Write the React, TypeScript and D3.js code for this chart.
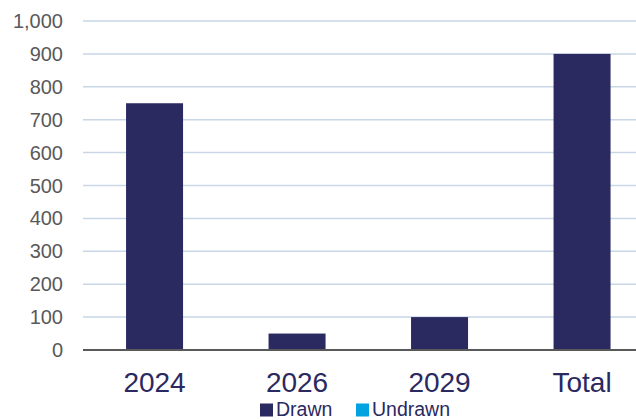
import React from "react";
import * as d3 from "d3";

const categories = ["2024", "2026", "2029", "Total"];
const drawn = [750, 50, 100, 900];
const undrawn = [0, 0, 0, 0];
const yTicks = [0, 100, 200, 300, 400, 500, 600, 700, 800, 900, 1000];
const seriesNames = ["Drawn", "Undrawn"];

const W = 636;
const H = 420;
const NAVY = "#2a2960";
const CYAN = "#00a3e0";

export default function App() {
  const x = d3.scaleBand<string>().domain(categories).range([83.3, 653.3]).paddingInner(0.6).paddingOuter(0.3);
  const y = d3.scaleLinear().domain([0, 1000]).range([350, 21]);
  const fmt = d3.format(",");
  const bw = x.bandwidth();
  return (
    <div style={{ position: "fixed", left: 0, top: 0 }}>
      <svg width={W} height={H} style={{ display: "block", fontFamily: "'Liberation Sans', Arial, sans-serif" }}>
        <rect width={W} height={H} fill="#fff" />
        {yTicks.map((t) => (
          <g key={t}>
            {t > 0 && (
              <line x1={83} x2={W} y1={y(t)} y2={y(t)} stroke="#c9d6e6" strokeWidth={1.5} />
            )}
            <text x={63} y={y(t)} dy="0.35em" textAnchor="end" fontSize={20} fill="#595959">
              {fmt(t)}
            </text>
          </g>
        ))}
        {categories.map((c, i) => (
          <g key={c}>
            <rect x={x(c)!} width={bw} y={y(drawn[i])} height={y(0) - y(drawn[i])} fill={NAVY} />
            <rect
              x={x(c)!}
              width={bw}
              y={y(drawn[i] + undrawn[i])}
              height={y(drawn[i]) - y(drawn[i] + undrawn[i])}
              fill={CYAN}
            />
            <text x={x(c)! + bw / 2} y={382} dy="0.36em" textAnchor="middle" fontSize={28} fill={NAVY}>
              {c}
            </text>
          </g>
        ))}
        <line x1={83} x2={W} y1={y(0)} y2={y(0)} stroke="#595959" strokeWidth={2} />
        <g>
          <rect x={260} y={403.5} width={13} height={13} fill={NAVY} />
          <text x={276} y={415.5} fontSize={19.5} fill={NAVY}>
            {seriesNames[0]}
          </text>
          <rect x={356} y={403.5} width={13} height={13} fill={CYAN} />
          <text x={372} y={415.5} fontSize={19.5} fill={NAVY}>
            {seriesNames[1]}
          </text>
        </g>
      </svg>
    </div>
  );
}
